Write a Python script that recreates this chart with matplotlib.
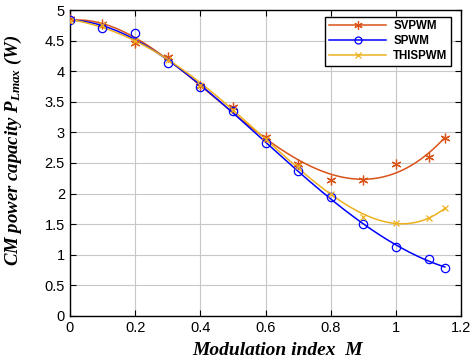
import numpy as np
import matplotlib
matplotlib.use("Agg")
import matplotlib.pyplot as plt
from matplotlib.lines import Line2D

plt.rcParams["font.family"] = ["Liberation Sans", "DejaVu Sans"]
plt.rcParams["mathtext.fontset"] = "custom"
plt.rcParams["mathtext.rm"] = "Liberation Serif:bold:italic"
plt.rcParams["mathtext.it"] = "Liberation Serif:bold:italic"
plt.rcParams["mathtext.bf"] = "Liberation Serif:bold:italic"

# Modulation index samples
m = [0.0, 0.1, 0.2, 0.3, 0.4, 0.5, 0.6, 0.7, 0.8, 0.9, 1.0, 1.1, 1.15]

# CM power capacity (W) for each modulation scheme
svpwm = [4.85, 4.78, 4.47, 4.23, 3.76, 3.41, 2.93, 2.48, 2.23, 2.22, 2.49, 2.60, 2.91]
spwm = [4.84, 4.70, 4.62, 4.13, 3.74, 3.35, 2.83, 2.37, 1.94, 1.50, 1.12, 0.93, 0.79]
thispwm = [4.83, 4.75, 4.50, 4.19, 3.77, 3.37, 2.90, 2.45, 2.00, 1.62, 1.52, 1.60, 1.76]

asterisk = (6, 2, 0)
series = [
    ("SVPWM", svpwm, "#D95319", asterisk, "#D95319", 7),
    ("SPWM", spwm, "#0000FF", "o", "none", 6),
    ("THISPWM", thispwm, "#EDB120", "x", "#EDB120", 5),
]

fig = plt.figure(figsize=(4.72, 3.61), dpi=100)
ax = fig.add_axes([0.148, 0.125, 0.829, 0.847])

mx = np.array(m)
xs = np.linspace(mx.min(), mx.max(), 300)
handles = []
for name, vals, col, mk, fc, ms in series:
    coef = np.polyfit(mx, np.array(vals), 4)
    ax.plot(xs, np.polyval(coef, xs), color=col, lw=1.1, zorder=3)
    ax.plot(mx, vals, linestyle="none", marker=mk, markersize=ms,
            markeredgecolor=col, markerfacecolor=fc, markeredgewidth=0.9, zorder=4)
    handles.append(Line2D([], [], color=col, lw=1.1, marker=mk, markersize=ms - 1,
                          markeredgecolor=col, markerfacecolor=fc,
                          markeredgewidth=0.9, label=name))

ax.set_xlim(0, 1.2)
ax.set_ylim(0, 5)
ax.set_xticks(np.arange(0, 1.21, 0.2))
ax.set_xticklabels(["0", "0.2", "0.4", "0.6", "0.8", "1", "1.2"])
ax.set_yticks(np.arange(0, 5.01, 0.5))
ax.set_yticklabels(["0", "0.5", "1", "1.5", "2", "2.5", "3", "3.5", "4", "4.5", "5"])
ax.tick_params(direction="in", top=True, right=True, labelsize=10.5, length=4, width=0.8)
ax.grid(True, color="#c8c8c8", lw=0.8)
ax.set_axisbelow(True)
for s in ax.spines.values():
    s.set_linewidth(1.0)

ax.set_xlabel("Modulation index  M", fontsize=14, family="Liberation Serif",
              style="italic", weight="bold")
ax.xaxis.set_label_coords(0.532, -0.085)
ax.set_ylabel(r"CM power capacity $P_{Lmax}$ (W)", fontsize=13.5, family="Liberation Serif",
              style="italic", weight="bold")
ax.yaxis.set_label_coords(-0.118, 0.541)

leg = ax.legend(handles=handles, loc="upper right", bbox_to_anchor=(0.974, 0.978),
                fancybox=False, framealpha=1, edgecolor="black",
                prop={"weight": "bold", "size": 8.3}, handlelength=5.0,
                borderaxespad=0, labelspacing=0.25, handletextpad=0.6, borderpad=0.3)
leg.get_frame().set_linewidth(1.0)

fig.savefig("out.png", dpi=100)
